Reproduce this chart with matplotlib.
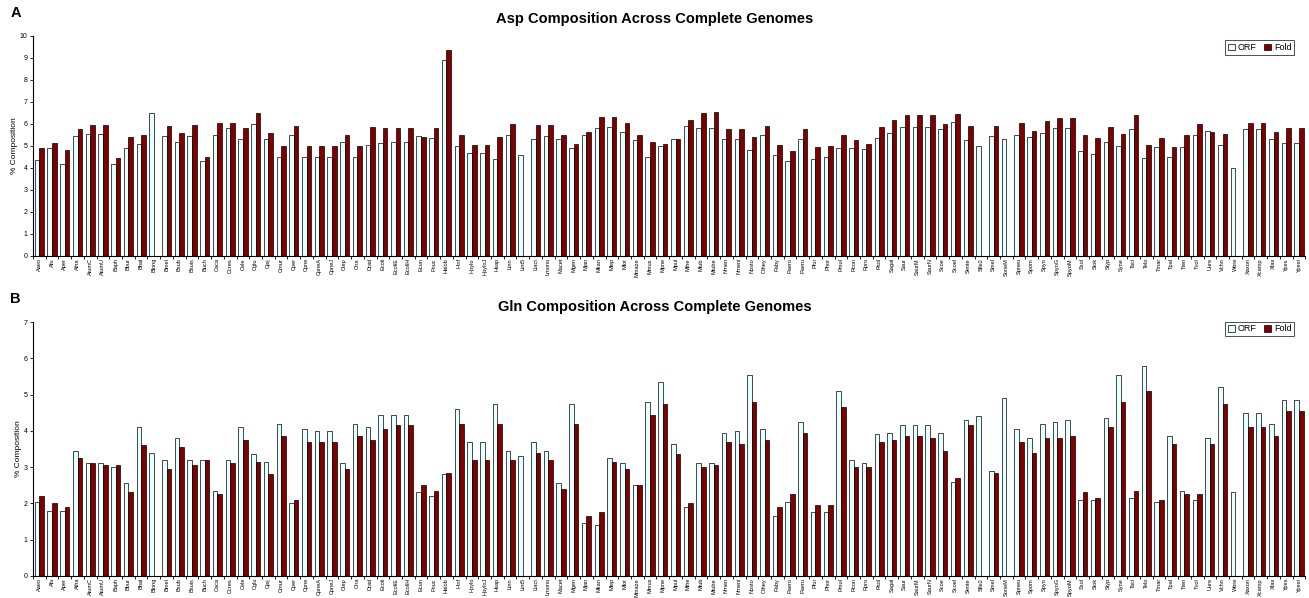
import numpy as np
import matplotlib
matplotlib.use("Agg")
import matplotlib.pyplot as plt
from matplotlib.ticker import FixedLocator, NullFormatter

plt.rcParams['font.family'] = ['Liberation Sans', 'DejaVu Sans']

# genome abbreviations (same order in both panels)
genomes = ["Aaeo", "Afu", "Aper", "Atha", "AtumC", "AtumU", "Baph", "Bbur", "Bhal", "Blong",
           "Bmel", "Bsub", "Bsuis", "Buch", "Caca", "Ccres", "Cele", "Cglu", "Cjej", "Cmur",
           "Cper", "Cpne", "CpneA", "CpneJ", "Ctep", "Ctra", "Drad", "Ecoli", "EcoliE", "EcoliH",
           "Ecun", "Fnuc", "Halob", "Hinf", "Hpylo", "HpyloJ", "Hsap", "Linn", "Lint5", "Llact",
           "Lmono", "Macet", "Mgen", "Mjan", "Mkan", "Mlep", "Mlot", "Mmaze", "Mmus", "Mpne",
           "Mpul", "Mthe", "Mtub", "Mtube", "Nmen", "Nmeni", "Nosto", "Oihey", "Paby", "Paero",
           "Paeru", "Pfur", "Phor", "Pmul", "Rcon", "Rpro", "Rsol", "Sagal", "Saur", "SaurM",
           "SaurN", "Scoe", "Scoel", "Sente", "Sfle2", "Smel", "SoneM", "Spneu", "Spom", "Spyo",
           "SpyoG", "SpyoM", "Ssol", "Stok", "Styp", "Syne", "Taci", "Telo", "Tmar", "Tpal",
           "Tten", "Tvol", "Uure", "Vcho", "Wbre", "Xaxon", "Xcamp", "Xfas", "Ypes", "Ypest"]

# Panel A - Asp composition (%)
asp_orf = [4.35, 4.9, 4.2, 5.45, 5.55, 5.55, 4.2, 4.9, 5.1, 6.5,
           5.45, 5.2, 5.45, 4.3, 5.5, 5.8, 5.3, 6.0, 5.3, 4.5,
           5.5, 4.5, 4.5, 4.5, 5.2, 4.5, 5.05, 5.15, 5.2, 5.2,
           5.45, 5.35, 8.9, 5.0, 4.7, 4.7, 4.4, 5.5, 4.6, 5.3,
           5.45, 5.3, 4.9, 5.5, 5.8, 5.85, 5.65, 5.25, 4.5, 5.0,
           5.3, 5.9, 5.8, 5.8, 5.3, 5.3, 4.8, 5.5, 4.6, 4.3,
           5.3, 4.4, 4.5, 4.9, 4.9, 4.85, 5.35, 5.6, 5.85, 5.85,
           5.85, 5.75, 6.1, 5.25, 5.0, 5.45, 5.3, 5.5, 5.4, 5.6,
           5.8, 5.8, 4.75, 4.65, 5.2, 5.0, 5.75, 4.45, 4.95, 4.5,
           4.95, 5.5, 5.7, 5.05, 4.0, 5.75, 5.75, 5.3, 5.15, 5.15]
asp_fold = [4.9, 5.15, 4.8, 5.75, 5.95, 5.95, 4.45, 5.4, 5.5, 0,
            5.9, 5.6, 5.95, 4.5, 6.05, 6.05, 5.8, 6.5, 5.6, 5.0,
            5.9, 5.0, 5.0, 5.0, 5.5, 5.0, 5.85, 5.8, 5.8, 5.8,
            5.4, 5.8, 9.35, 5.5, 5.05, 5.05, 5.4, 6.0, 0, 5.95,
            5.95, 5.5, 5.1, 5.65, 6.3, 6.3, 6.05, 5.5, 5.2, 5.1,
            5.3, 6.2, 6.5, 6.55, 5.75, 5.75, 5.4, 5.9, 5.05, 4.75,
            5.75, 4.95, 5.0, 5.5, 5.25, 5.1, 5.85, 6.2, 6.4, 6.4,
            6.4, 6.0, 6.45, 5.9, 0, 5.9, 0, 6.05, 5.7, 6.15,
            6.25, 6.25, 5.5, 5.35, 5.85, 5.55, 6.4, 5.05, 5.35, 4.95,
            5.5, 6.0, 5.65, 5.55, 0, 6.05, 6.05, 5.65, 5.8, 5.8]

# Panel B - Gln composition (%)
gln_orf = [2.05, 1.8, 1.8, 3.45, 3.1, 3.1, 3.0, 2.55, 4.1, 3.4,
           3.2, 3.8, 3.2, 3.2, 2.35, 3.2, 4.1, 3.35, 3.15, 4.2,
           2.0, 4.05, 4.0, 4.0, 3.1, 4.2, 4.1, 4.45, 4.45, 4.45,
           2.3, 2.2, 2.8, 4.6, 3.7, 3.7, 4.75, 3.45, 3.3, 3.7,
           3.45, 2.55, 4.75, 1.45, 1.4, 3.25, 3.1, 2.5, 4.8, 5.35,
           3.65, 1.9, 3.1, 3.1, 3.95, 4.0, 5.55, 4.05, 1.65, 2.05,
           4.25, 1.75, 1.75, 5.1, 3.2, 3.1, 3.9, 3.95, 4.15, 4.15,
           4.15, 3.95, 2.6, 4.3, 4.4, 2.9, 4.9, 4.05, 3.8, 4.2,
           4.25, 4.3, 2.1, 2.1, 4.35, 5.55, 2.15, 5.8, 2.05, 3.85,
           2.35, 2.1, 3.8, 5.2, 2.3, 4.5, 4.5, 4.2, 4.85, 4.85]
gln_fold = [2.2, 2.0, 1.9, 3.25, 3.1, 3.05, 3.05, 2.3, 3.6, 0,
            2.95, 3.55, 3.05, 3.2, 2.25, 3.1, 3.75, 3.15, 2.8, 3.85,
            2.1, 3.7, 3.7, 3.7, 2.95, 3.85, 3.75, 4.05, 4.15, 4.15,
            2.5, 2.35, 2.85, 4.2, 3.2, 3.2, 4.2, 3.2, 0, 3.4,
            3.2, 2.4, 4.2, 1.65, 1.75, 3.15, 2.95, 2.5, 4.45, 4.75,
            3.35, 2.0, 3.0, 3.05, 3.7, 3.65, 4.8, 3.75, 1.9, 2.25,
            3.95, 1.95, 1.95, 4.65, 3.0, 3.0, 3.7, 3.75, 3.85, 3.85,
            3.8, 3.45, 2.7, 4.15, 0, 2.85, 0, 3.7, 3.4, 3.8,
            3.8, 3.85, 2.3, 2.15, 4.1, 4.8, 2.35, 5.1, 2.1, 3.65,
            2.25, 2.25, 3.65, 4.75, 0, 4.1, 4.1, 3.85, 4.55, 4.55]

orf_color = "#E6FFFF"
fold_color = "#800000"

fig = plt.figure(figsize=(13.09, 5.98), dpi=100)


def panel(rect, orf, fold, ymax, title, letter, letter_y, title_y, leg_y):
    ax = fig.add_axes(rect)
    x = np.arange(len(genomes))
    w = 0.36
    ax.bar(x - w / 2, orf, w, color=orf_color, edgecolor="black", linewidth=0.5, label="ORF")
    ax.bar(x + w / 2, fold, w, color=fold_color, edgecolor="black", linewidth=0.5, label="Fold")
    ax.set_xlim(-0.5, len(genomes) - 0.5)
    ax.set_ylim(0, ymax)
    ax.set_yticks(range(0, ymax + 1))
    ax.tick_params(axis="y", labelsize=5, length=2, width=0.6, pad=2)
    ax.set_xticks(x)
    ax.set_xticklabels(genomes, rotation=90, fontsize=4.1)
    ax.tick_params(axis="x", which="major", length=0, pad=1.5)
    ax.xaxis.set_minor_locator(FixedLocator(np.arange(-0.5, len(genomes), 1.0)))
    ax.xaxis.set_minor_formatter(NullFormatter())
    ax.tick_params(axis="x", which="minor", length=2.5, width=0.6, direction="out")
    for s in ("top", "right"):
        ax.spines[s].set_visible(False)
    for s in ("left", "bottom"):
        ax.spines[s].set_linewidth(0.8)
    ax.set_ylabel("% Composition", fontsize=6, labelpad=1)
    ax.legend(loc="upper right", bbox_to_anchor=(0.995, leg_y), fontsize=6.5, frameon=True,
              fancybox=False, edgecolor="black", handlelength=0.8, handleheight=0.8,
              handletextpad=0.3, columnspacing=0.8, ncol=2, borderpad=0.3).get_frame().set_linewidth(0.6)
    fig.text(0.5, title_y, title, ha="center", va="center", fontsize=10.5, fontweight="bold")
    fig.text(0.008, letter_y, letter, ha="left", va="center", fontsize=10.5, fontweight="bold")
    return ax


panel([0.0252, 0.572, 0.972, 0.368], asp_orf, asp_fold, 10,
      "Asp Composition Across Complete Genomes", "A", 0.978, 0.969, 1.0)
panel([0.0252, 0.037, 0.972, 0.4244], gln_orf, gln_fold, 7,
      "Gln Composition Across Complete Genomes", "B", 0.5, 0.487, 1.02)

fig.savefig("out.png", dpi=100)
